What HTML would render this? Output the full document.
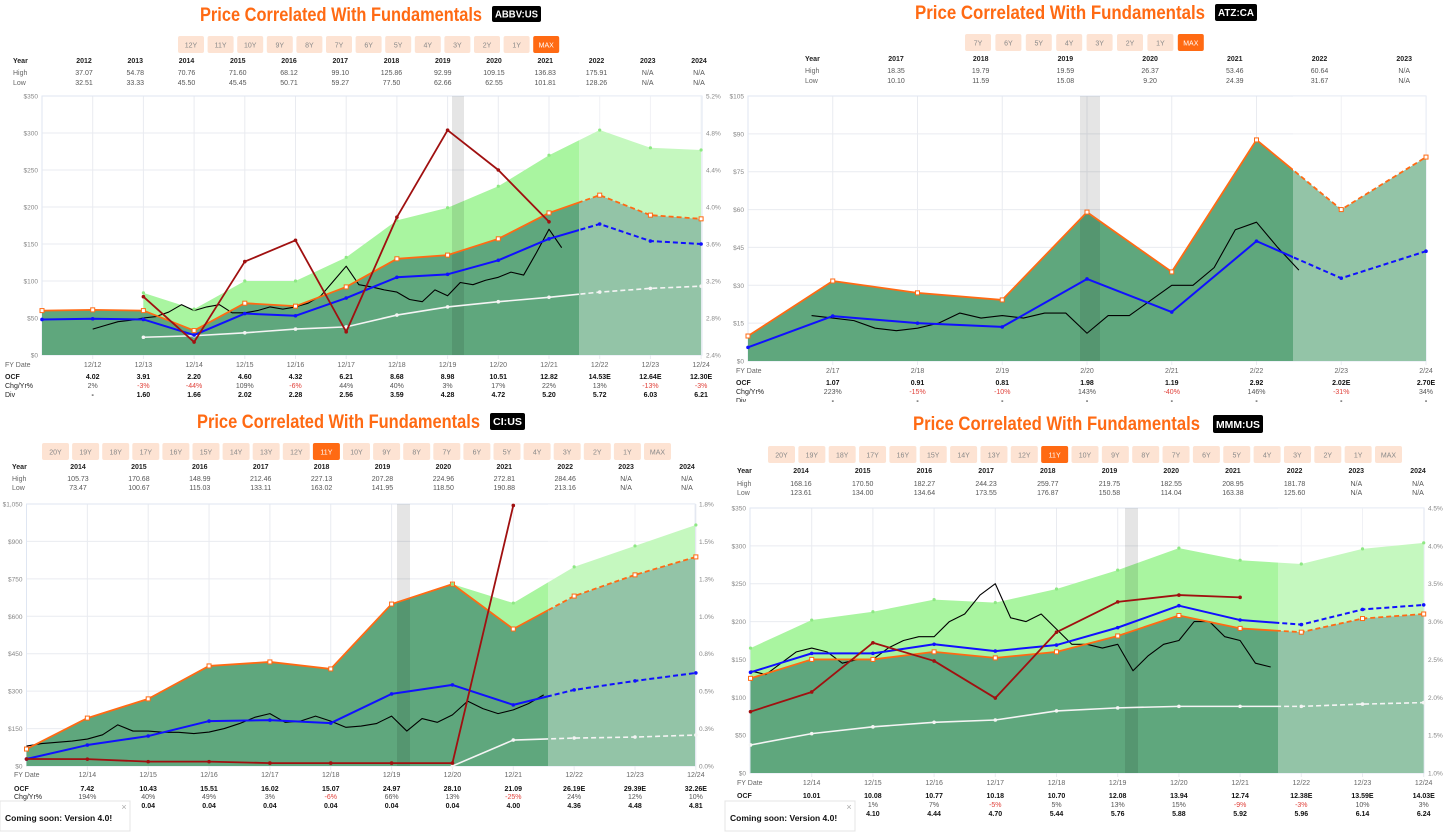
<!DOCTYPE html>
<html><head><meta charset="utf-8"><title>Price Correlated With Fundamentals</title>
<style>
html,body{margin:0;padding:0;background:#fff;width:1456px;height:833px;overflow:hidden}
svg{display:block;font-family:"Liberation Sans",sans-serif}
</style></head>
<body>
<svg id="root" width="1456" height="833" viewBox="0 0 1456 833" xmlns="http://www.w3.org/2000/svg"></svg>
<script>
// ---------------- DATA ----------------
// ABBV
const abbvCats = ['', '12/12','12/13','12/14','12/15','12/16','12/17','12/18','12/19','12/20','12/21','12/22','12/23','12/24'];
const abbvUpper = [null,null,84,62,100,100,132,182,199,228,270,304,280,277];
const abbvFair = [60,61,60,33,70,66,92,130,135,157,192,216,189,184];
const abbvNormal = [48,49,48,27,56,53,77,105,109,128,157,177,154,150];
const abbvWhite = [null,null,24,26,30,35,38,54,65,72,78,85,90,93];
const abbvYieldIdx = [2,3,4,5,6,7,8,9,10];
const abbvYield = [3.03,2.54,3.41,3.64,2.65,3.89,4.83,4.40,3.84];
const abbvPriceStart = 1.0;
const abbvPrice = [35,40,45,47, 50,52,58,68, 60,65,68,57, 57,60,65,62, 65,70,80,100, 120,95,92,88, 85,75,72,88, 80,98,95,101, 105,112,108,138, 170,145];
const abbvYears = ['2012','2013','2014','2015','2016','2017','2018','2019','2020','2021','2022','2023','2024'];
const abbvHigh = ['37.07','54.78','70.76','71.60','68.12','99.10','125.86','92.99','109.15','136.83','175.91','N/A','N/A'];
const abbvLow = ['32.51','33.33','45.50','45.45','50.71','59.27','77.50','62.66','62.55','101.81','128.26','N/A','N/A'];
const abbvOcf = ['4.02','3.91','2.20','4.60','4.32','6.21','8.68','8.98','10.51','12.82','14.53E','12.64E','12.30E'];
const abbvChg = ['2%','-3%','-44%','109%','-6%','44%','40%','3%','17%','22%','13%','-13%','-3%'];
const abbvDiv = ['-','1.60','1.66','2.02','2.28','2.56','3.59','4.28','4.72','5.20','5.72','6.03','6.21'];
const abbvButtons = ['12Y','11Y','10Y','9Y','8Y','7Y','6Y','5Y','4Y','3Y','2Y','1Y','MAX'];

// ATZ
const atzCats = ['', '2/17','2/18','2/19','2/20','2/21','2/22','2/23','2/24'];
const atzFair = [9.9,31.7,27,24.2,59,35.3,87.6,60,80.8];
const atzNormal = [5.4,17.8,15,13.5,32.5,19.4,47.5,32.8,43.5];
const atzPriceStart = 0.75;
const atzPrice = [18,17,16,13,12,13,15,19,17,18,17,19,19,11,18,18,24,30,30,37,52,55,45,36];
const atzYears = ['2017','2018','2019','2020','2021','2022','2023'];
const atzHigh = ['18.35','19.79','19.59','26.37','53.46','60.64','N/A'];
const atzLow = ['10.10','11.59','15.08','9.20','24.39','31.67','N/A'];
const atzOcf = ['1.07','0.91','0.81','1.98','1.19','2.92','2.02E','2.70E'];
const atzChg = ['223%','-15%','-10%','143%','-40%','146%','-31%','34%'];
const atzDiv = ['-','-','-','-','-','-','-','-'];
const atzButtons = ['7Y','6Y','5Y','4Y','3Y','2Y','1Y','MAX'];

// CI
const ciCats = ['', '12/14','12/15','12/16','12/17','12/18','12/19','12/20','12/21','12/22','12/23','12/24'];
const ciUpper = [null,null,null,null,null,null,null,729,653,798,882,966];
const ciFair = [68,192,269,401,417,389,649,729,549,681,766,838];
const ciNormal = [28,84,120,180,184,172,289,325,245,305,341,373];
const ciWhite = [null,null,null,null,null,null,null,0,104,112,116,124];
const ciYieldIdx = [0,1,2,3,4,5,6,7,8];
const ciYield = [0.048,0.047,0.03,0.03,0.02,0.02,0.02,0.02,1.79];
const ciPriceStart = 0;
const ciPrice = [80,90,95,100, 108,125,165,140, 140,135,135,130, 136,150,170,195, 210,175,180,200, 180,155,160,170, 200,140,190,175, 205,260,230,210, 225,250,285];
const ciYears = ['2014','2015','2016','2017','2018','2019','2020','2021','2022','2023','2024'];
const ciHigh = ['105.73','170.68','148.99','212.46','227.13','207.28','224.96','272.81','284.46','N/A','N/A'];
const ciLow = ['73.47','100.67','115.03','133.11','163.02','141.95','118.50','190.88','213.16','N/A','N/A'];
const ciOcf = ['7.42','10.43','15.51','16.02','15.07','24.97','28.10','21.09','26.19E','29.39E','32.26E'];
const ciChg = ['194%','40%','49%','3%','-6%','66%','13%','-25%','24%','12%','10%'];
const ciDiv = ['0.04','0.04','0.04','0.04','0.04','0.04','0.04','4.00','4.36','4.48','4.81'];
const longButtons = ['20Y','19Y','18Y','17Y','16Y','15Y','14Y','13Y','12Y','11Y','10Y','9Y','8Y','7Y','6Y','5Y','4Y','3Y','2Y','1Y','MAX'];

// MMM
const mmmCats = ['', '12/14','12/15','12/16','12/17','12/18','12/19','12/20','12/21','12/22','12/23','12/24'];
const mmmUpper = [165,202,213,229,225,243,268,297,281,276,296,304];
const mmmFair = [125,150,150,160,152,160,181,208,191,186,204,210];
const mmmNormal = [133,158,158,170,161,169,192,221,202,196,216,222];
const mmmWhite = [37,52,61,67,70,82,86,88,88,88,91,93];
const mmmYieldIdx = [0,1,2,3,4,5,6,7,8];
const mmmYield = [1.81,2.07,2.72,2.48,1.99,2.86,3.26,3.35,3.32];
const mmmPriceStart = 0;
const mmmPrice = [135,130,145,160, 165,160,145,150, 150,165,175,180, 180,200,210,235, 250,205,200,210, 190,170,170,165, 170,135,155,170, 175,200,200,180, 175,145,140];
const mmmYears = ['2014','2015','2016','2017','2018','2019','2020','2021','2022','2023','2024'];
const mmmHigh = ['168.16','170.50','182.27','244.23','259.77','219.75','182.55','208.95','181.78','N/A','N/A'];
const mmmLow = ['123.61','134.00','134.64','173.55','176.87','150.58','114.04','163.38','125.60','N/A','N/A'];
const mmmOcf = ['10.01','10.08','10.77','10.18','10.70','12.08','13.94','12.74','12.38E','13.59E','14.03E'];
const mmmChg = ['19%','1%','7%','-5%','5%','13%','15%','-9%','-3%','10%','3%'];
const mmmDiv = ['3.54','4.10','4.44','4.70','5.44','5.76','5.88','5.92','5.96','6.14','6.24'];

// ---------------- RENDER ----------------
const NS = 'http://www.w3.org/2000/svg';
const root = document.getElementById('root');
const defs = document.createElementNS(NS,'defs');
root.appendChild(defs);
function mk(tag, attrs, parent){
  const e = document.createElementNS(NS, tag);
  for (const k in attrs) e.setAttribute(k, attrs[k]);
  (parent||root).appendChild(e);
  return e;
}
function tx(parent, x, y, s, size, fill, anchor, weight, name){
  const t = mk('text', {x:x, y:y, 'font-size':size, fill:fill, 'text-anchor':anchor||'start', 'font-weight':weight||'normal'}, parent);
  t.textContent = s;
  
  
  return t;
}

const panels = [
 {id:'abbv', ticker:'ABBV:US', titleX:200, titleW:282, titleY:21, badge:[492,6,49,16],
  buttons:abbvButtons, sel:12, btnX:178, btnY:36, btnW:26, btnGap:3.6,
  years:abbvYears, high:abbvHigh, low:abbvLow, tblX:84, tblStep:51.25, tblLbl:13, tblY:[63,75,85],
  cats:abbvCats, x0:42, step:50.7, L:42, R:702, T:96, B:355, lmax:350, ln:7,
  rmin:2.4, rmax:5.2, cut:579, rec:[452,464],
  upper:abbvUpper, fair:abbvFair, normal:abbvNormal, white:abbvWhite, yIdx:abbvYieldIdx, yVal:abbvYield,
  pStart:abbvPriceStart, price:abbvPrice,
  ocf:abbvOcf, chg:abbvChg, div:abbvDiv, ftLbl:5, ftY:[367,379,388,397]},
 {id:'atz', ticker:'ATZ:CA', titleX:915, titleW:290, titleY:19, badge:[1215,4,42,17],
  buttons:atzButtons, sel:7, btnX:965, btnY:34, btnW:26, btnGap:4.4,
  years:atzYears, high:atzHigh, low:atzLow, tblX:896, tblStep:84.7, tblLbl:805, tblY:[61,73,83],
  cats:atzCats, x0:748, step:84.75, L:748, R:1426, T:96, B:361, lmax:105, ln:7,
  rmin:null, cut:1293, rec:[1080,1100],
  upper:null, fair:atzFair, normal:atzNormal, white:null, yIdx:null, yVal:null,
  pStart:atzPriceStart, price:atzPrice,
  ocf:atzOcf, chg:atzChg, div:atzDiv, ftLbl:736, ftY:[373,385,394,403]},
 {id:'ci', ticker:'CI:US', titleX:197, titleW:283, titleY:428, badge:[490,413,35,17],
  buttons:longButtons, sel:9, btnX:42, btnY:443, btnW:27, btnGap:3.1,
  years:ciYears, high:ciHigh, low:ciLow, tblX:78, tblStep:60.9, tblLbl:12, tblY:[469,481,490],
  cats:ciCats, x0:26.5, step:60.85, L:26.5, R:695, T:504, B:766, lmax:1050, ln:7,
  rmin:0, rmax:1.8, cut:548, rec:[397,410],
  upper:ciUpper, fair:ciFair, normal:ciNormal, white:ciWhite, yIdx:ciYieldIdx, yVal:ciYield,
  pStart:ciPriceStart, price:ciPrice,
  ocf:ciOcf, chg:ciChg, div:ciDiv, ftLbl:14, ftY:[777,791,799,808]},
 {id:'mmm', ticker:'MMM:US', titleX:913, titleW:287, titleY:430, badge:[1213,415,50,18],
  buttons:longButtons, sel:9, btnX:768, btnY:446, btnW:27, btnGap:3.35,
  years:mmmYears, high:mmmHigh, low:mmmLow, tblX:801, tblStep:61.7, tblLbl:737, tblY:[473,486,495],
  cats:mmmCats, x0:750.5, step:61.2, L:750, R:1424, T:508, B:773, lmax:350, ln:7,
  rmin:1.0, rmax:4.5, cut:1278, rec:[1125,1138],
  upper:mmmUpper, fair:mmmFair, normal:mmmNormal, white:mmmWhite, yIdx:mmmYieldIdx, yVal:mmmYield,
  pStart:mmmPriceStart, price:mmmPrice,
  ocf:mmmOcf, chg:mmmChg, div:mmmDiv, ftLbl:737, ftY:[785,798,807,816]}
];

function fmtMoney(v){ return '$' + v.toLocaleString('en-US'); }

panels.forEach(p => {
  const g = mk('g', {});
  
  
  const X = i => p.x0 + i * p.step;
  const YL = v => p.B - v / p.lmax * (p.B - p.T);
  const YR = v => p.B - (v - p.rmin) / (p.rmax - p.rmin) * (p.B - p.T);

  // title + badge
  const tt = tx(g, p.titleX, p.titleY, 'Price Correlated With Fundamentals', 19, '#ff6a13', 'start', 'bold', 'chart-title');
  tt.setAttribute('textLength', p.titleW);
  tt.setAttribute('lengthAdjust', 'spacingAndGlyphs');
  const bd = mk('rect', {x:p.badge[0], y:p.badge[1], width:p.badge[2], height:p.badge[3], rx:2, fill:'#000'}, g);
  
  
  const bt = tx(g, p.badge[0] + p.badge[2]/2, p.badge[1] + p.badge[3]*0.72, p.ticker, 10.5, '#fff', 'middle', 'bold', 'ticker-label');
  bt.setAttribute('textLength', p.badge[2] - 6);
  bt.setAttribute('lengthAdjust', 'spacingAndGlyphs');

  // range buttons
  p.buttons.forEach((b, i) => {
    const bx = p.btnX + i * (p.btnW + p.btnGap);
    const on = i === p.sel;
    const r = mk('rect', {x:bx, y:p.btnY, width:p.btnW, height:17, rx:2, fill: on ? '#ff6a13' : '#fde3d3'}, g);
    
    
    tx(g, bx + p.btnW/2, p.btnY + 11.5, b, 7, on ? '#fff' : '#888', 'middle', 'normal', 'range-button-label');
  });

  // year table
  tx(g, p.tblLbl, p.tblY[0], 'Year', 7, '#222', 'start', 'bold', 'year-row-label');
  tx(g, p.tblLbl, p.tblY[1], 'High', 7, '#666', 'start', 'normal', 'high-row-label');
  tx(g, p.tblLbl, p.tblY[2], 'Low', 7, '#666', 'start', 'normal', 'low-row-label');
  p.years.forEach((y, i) => {
    const cx = p.tblX + i * p.tblStep;
    tx(g, cx, p.tblY[0], y, 7, '#222', 'middle', 'bold', 'year-cell');
    tx(g, cx, p.tblY[1], p.high[i], 7, '#555', 'middle', 'normal', 'high-cell');
    tx(g, cx, p.tblY[2], p.low[i], 7, '#555', 'middle', 'normal', 'low-cell');
  });

  // clip paths
  const cid = p.id;
  const c1 = mk('clipPath', {id: cid + '-solid'}, defs);
  mk('rect', {x:p.L - 5, y:p.T - 20, width:p.cut - p.L + 5, height:p.B - p.T + 40}, c1);
  const c2 = mk('clipPath', {id: cid + '-dash'}, defs);
  mk('rect', {x:p.cut, y:p.T - 20, width:p.R - p.cut + 10, height:p.B - p.T + 40}, c2);
  const c3 = mk('clipPath', {id: cid + '-plot'}, defs);
  mk('rect', {x:p.L, y:p.T, width:p.R - p.L, height:p.B - p.T}, c3);

  // grid
  const grid = mk('g', {stroke:'#e9ebf0', 'stroke-width':1}, g);
  
  
  for (let k = 0; k <= p.ln; k++) {
    const v = p.lmax * k / p.ln;
    mk('line', {x1:p.L, x2:p.R, y1:YL(v), y2:YL(v)}, grid);
    tx(g, p.L - 4, YL(v) + 2.5, fmtMoney(Math.round(v)), 6.5, '#888', 'end', 'normal', 'left-axis-tick');
    if (p.rmin !== null) {
      const rv = p.rmin + (p.rmax - p.rmin) * k / p.ln;
      tx(g, p.R + 4, YR(rv) + 2.5, rv.toFixed(1) + '%', 6.5, '#888', 'start', 'normal', 'right-axis-tick');
    }
  }
  p.cats.forEach((c, i) => {
    if (!c) return;
    mk('line', {x1:X(i), x2:X(i), y1:p.T, y2:p.B + 4}, grid);
  });
  mk('rect', {x:p.L, y:p.T, width:p.R - p.L, height:p.B - p.T, fill:'none', stroke:'#dfe6f2'}, g);

  const plot = mk('g', {'clip-path':'url(#' + cid + '-plot)'}, g);

  // fills
  let d = 'M' + X(0) + ',' + p.B;
  p.fair.forEach((v, i) => { d += ' L' + X(i) + ',' + YL(v); });
  d += ' L' + X(p.fair.length - 1) + ',' + p.B + ' Z';
  const fa = mk('path', {d:d, fill:'#5fa77d'}, plot);
  
  
  if (p.upper) {
    const idx = p.upper.map((v, i) => v === null ? -1 : i).filter(i => i >= 0);
    let u = '';
    idx.forEach((i, k) => { u += (k ? ' L' : 'M') + X(i) + ',' + YL(p.upper[i]); });
    idx.slice().reverse().forEach(i => { u += ' L' + X(i) + ',' + YL(p.fair[i]); });
    u += ' Z';
    const ua = mk('path', {d:u, fill:'#a9f5a0'}, plot);
    
    
  }
  const ov = mk('rect', {x:p.cut, y:p.T, width:p.R - p.cut, height:p.B - p.T, fill:'#fff', opacity:0.33}, plot);
  
  
  const rb = mk('rect', {x:p.rec[0], y:p.T, width:p.rec[1] - p.rec[0], height:p.B - p.T, fill:'#000', opacity:0.1}, plot);
  
  

  function series(vals, idxs, yfn, color, w, name, marker, dashed){
    let pts = [];
    vals.forEach((v, k) => { if (v !== null) pts.push([X(idxs ? idxs[k] : k), yfn(v)]); });
    const dd = pts.map((q, k) => (k ? 'L' : 'M') + q[0] + ',' + q[1]).join(' ');
    const sg = mk('g', {}, g);
    
    
    if (dashed) {
      mk('path', {d:dd, fill:'none', stroke:color, 'stroke-width':w, 'stroke-linejoin':'round', 'clip-path':'url(#' + cid + '-solid)'}, sg);
      mk('path', {d:dd, fill:'none', stroke:color, 'stroke-width':w, 'stroke-dasharray':'5,3', 'clip-path':'url(#' + cid + '-dash)'}, sg);
    } else {
      mk('path', {d:dd, fill:'none', stroke:color, 'stroke-width':w, 'stroke-linejoin':'round'}, sg);
    }
    if (marker === 'ring') pts.forEach(q => mk('rect', {x:q[0]-2, y:q[1]-2, width:4, height:4, fill:'#fff', stroke:color, 'stroke-width':1}, sg));
    if (marker === 'dot') pts.forEach(q => mk('circle', {cx:q[0], cy:q[1], r:1.8, fill:color}, sg));
  }
  if (p.white) series(p.white, null, YL, '#f4f4f4', 1.6, 'dividend-line', 'dot', true);
  // price
  const pp = p.price.map((v, k) => (k ? 'L' : 'M') + X(p.pStart + k * 0.25) + ',' + YL(v)).join(' ');
  const pr = mk('path', {d:pp, fill:'none', stroke:'#000', 'stroke-width':1.1, 'stroke-linejoin':'round'}, g);
  
  
  series(p.normal, null, YL, '#1010ff', 2, 'normal-pe-line', 'dot', true);
  series(p.fair, null, YL, '#ff6a13', 1.8, 'fair-value-line', 'ring', true);
  if (p.upper) {
    const ug = mk('g', {}, g);
    
    
    p.upper.forEach((v, i) => { if (v !== null) mk('circle', {cx:X(i), cy:YL(v), r:1.6, fill:'#8ee884'}, ug); });
  }
  if (p.yVal) series(p.yVal, p.yIdx, YR, '#a01010', 1.8, 'dividend-yield-line', 'dot', false);

  // footer
  tx(g, p.ftLbl, p.ftY[0], 'FY Date', 7, '#666', 'start', 'normal', 'fy-date-label');
  tx(g, p.ftLbl, p.ftY[1], 'OCF', 7, '#222', 'start', 'bold', 'ocf-label');
  tx(g, p.ftLbl, p.ftY[2], 'Chg/Yr%', 7, '#222', 'start', 'normal', 'chg-label');
  tx(g, p.ftLbl, p.ftY[3], 'Div', 7, '#222', 'start', 'normal', 'div-label');
  p.cats.forEach((c, i) => {
    if (!c) return;
    const k = i - 1;
    tx(g, X(i), p.ftY[0], c, 7, '#666', 'middle', 'normal', 'x-axis-tick');
    tx(g, X(i), p.ftY[1], p.ocf[k], 7, '#111', 'middle', 'bold', 'ocf-cell');
    tx(g, X(i), p.ftY[2], p.chg[k], 7, p.chg[k].charAt(0) === '-' ? '#e0413a' : '#555', 'middle', 'normal', 'chg-cell');
    tx(g, X(i), p.ftY[3], p.div[k], 7, '#111', 'middle', 'bold', 'div-cell');
  });
});

// clip ATZ footer (Div row cut off in original)
const cover = mk('rect', {x:728, y:402, width:728, height:8, fill:'#fff'});



// popups
[[0,'popup-left'],[725,'popup-right']].forEach(a => {
  const pg = mk('g', {});
  
  
  mk('rect', {x:a[0], y:801, width:130, height:30, fill:'#fff', stroke:'#e4e4e4'}, pg);
  tx(pg, a[0] + 5, 821, 'Coming soon: Version 4.0!', 8.5, '#111', 'start', 'bold', 'popup-text');
  tx(pg, a[0] + 124, 810, '×', 9, '#aaa', 'middle', 'normal', 'popup-close');
});
</script>
</body></html>
